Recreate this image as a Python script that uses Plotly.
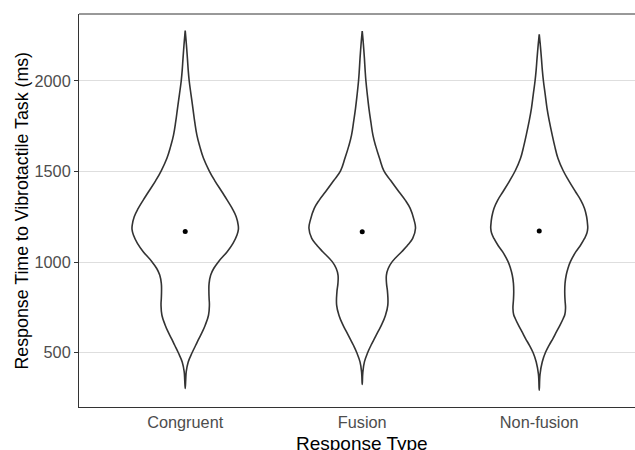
import numpy as np
import plotly.graph_objects as go

categories = ["Congruent", "Fusion", "Non-fusion"]
means = [1169, 1167, 1171]

# Violin outlines: response time levels (ms) and relative density
cong_y = [301, 350, 393, 448, 500, 540, 577, 615, 651, 706, 762, 800, 835, 882, 928, 964, 1002,
          1057, 1103, 1149, 1180, 1204, 1250, 1296, 1342, 1388, 1450, 1504, 1573, 1640, 1701,
          1775, 1849, 1925, 2000, 2060, 2125, 2200, 2240, 2278]
cong_d = [0, 0.5, 1.0, 3.0, 7.0, 10.5, 13.7, 17.2, 20.0, 23.3, 24.2, 23.9, 23.7, 23.9, 25.5, 28.5, 33.3,
          42.0, 47.8, 51.8, 53.2, 53.0, 51.0, 47.0, 42.0, 36.7, 29.5, 24.0, 18.3, 14.5, 11.7,
          9.5, 7.7, 5.8, 4.0, 3.0, 2.2, 1.2, 0.6, 0]

fus_y = [323, 390, 448, 500, 540, 577, 615, 651, 706, 762, 835, 882, 928, 964, 1002, 1057, 1090,
         1130, 1186, 1231, 1296, 1342, 1388, 1450, 1504, 1573, 1640, 1701, 1775, 1849, 1925,
         2000, 2060, 2125, 2200, 2240, 2276]
fus_d = [0, 0.6, 2.2, 5.5, 8.8, 12.2, 15.8, 19.2, 23.3, 25.6, 25.3, 24.3, 24.2, 26.0, 30.0, 39.5, 45.0,
         50.5, 53.3, 51.9, 48.0, 43.0, 36.7, 28.5, 21.7, 17.3, 13.5, 10.7, 8.6, 6.7, 5.1,
         3.7, 2.9, 2.2, 1.2, 0.6, 0]

nf_y = [292, 380, 448, 500, 540, 577, 615, 651, 688, 710, 744, 790, 835, 882, 928, 964, 1002,
        1057, 1090, 1130, 1160, 1186, 1204, 1250, 1296, 1342, 1388, 1450, 1504, 1573, 1640,
        1701, 1775, 1849, 1925, 2000, 2060, 2125, 2190, 2225, 2258]
nf_d = [0, 0.8, 3.0, 6.2, 9.8, 13.7, 17.3, 20.8, 24.0, 25.6, 26.3, 25.8, 25.5, 25.8, 27.0, 28.7, 31.2,
        36.7, 41.0, 45.3, 47.7, 48.5, 48.4, 47.4, 45.3, 41.5, 36.3, 29.5, 24.0, 18.7, 15.5,
        13.0, 10.2, 7.8, 6.0, 4.2, 3.1, 2.2, 1.2, 0.6, 0]

profiles = [(cong_y, cong_d), (fus_y, fus_d), (nf_y, nf_d)]
MAX_HALF = 0.301  # half-width (in category units) of the widest violin
dmax = max(max(d) for _, d in profiles)

FONT = "Liberation Sans, Arial, Helvetica, sans-serif"
fig = go.Figure()

for i, (ys, ds) in enumerate(profiles):
    c = i + 1
    ys = np.array(ys, float)
    hw = np.array(ds, float) / dmax * MAX_HALF
    xs = np.concatenate([c + hw, (c - hw)[::-1]])
    yy = np.concatenate([ys, ys[::-1]])
    fig.add_trace(go.Scatter(x=xs, y=yy, mode="lines",
                             line=dict(color="#333333", width=1.6, shape="spline", smoothing=1.2),
                             hoverinfo="skip", showlegend=False))

fig.add_trace(go.Scatter(x=[1, 2, 3], y=means, mode="markers",
                         marker=dict(color="black", size=5), showlegend=False))

fig.update_layout(
    width=635, height=450,
    margin=dict(l=79, r=0, t=14, b=43),
    paper_bgcolor="white", plot_bgcolor="white",
    font=dict(family=FONT),
    xaxis=dict(range=[0.4, 3.541], tickmode="array", tickvals=[1, 2, 3], ticktext=categories,
               showgrid=False, zeroline=False, showline=True, linecolor="#333333", linewidth=1,
               ticks="", tickfont=dict(size=16.3, color="#4d4d4d")),
    yaxis=dict(range=[199, 2370], tickvals=[500, 1000, 1500, 2000], showgrid=True, gridcolor="#dedede",
               gridwidth=1, zeroline=False, showline=True, linecolor="#333333", linewidth=1,
               ticks="outside", ticklen=4, tickcolor="#333333", tickwidth=1,
               tickfont=dict(size=16.3, color="#4d4d4d")),
    shapes=[dict(type="line", xref="paper", yref="paper", x0=0, x1=1, y0=1, y1=1,
                 line=dict(color="#333333", width=1))],
    annotations=[
        dict(text="Response Type", xref="x", yref="paper", x=2, y=-0.092, xanchor="center", yanchor="middle",
             showarrow=False, font=dict(size=19, color="black")),
        dict(text="Response Time to Vibrotactile Task (ms)", xref="paper", yref="paper", x=-0.1043, y=0.5,
             xanchor="center", yanchor="middle", textangle=-90, showarrow=False,
             font=dict(size=17.8, color="black")),
    ],
)

fig.write_html("out.html", config={"displayModeBar": False},
               post_script="document.body.style.margin='0px';document.body.style.overflow='hidden';")
